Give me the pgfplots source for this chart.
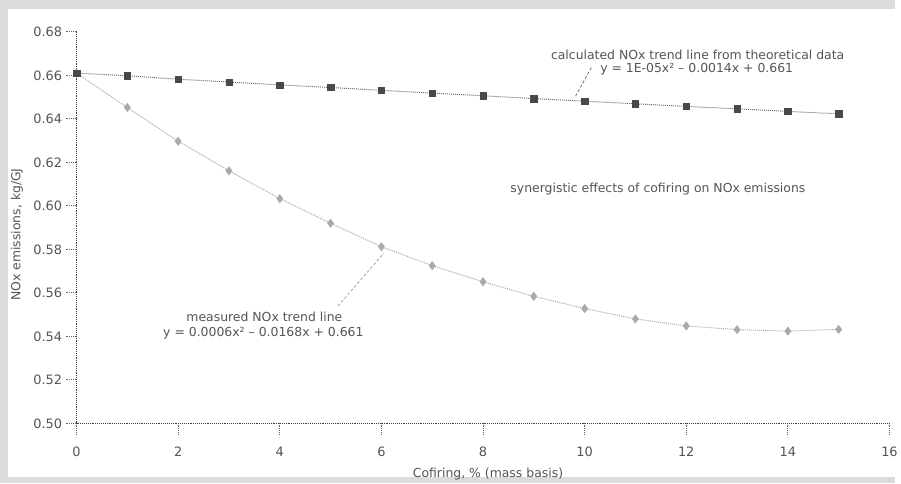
\documentclass[border=0pt]{standalone}
\usepackage{fontspec}
\setmainfont{DejaVu Sans}
\usepackage{pgfplots}
\pgfplotsset{compat=1.18}

\definecolor{inkgray}{RGB}{85,85,85}
\definecolor{axisgray}{RGB}{60,60,60}
\definecolor{calcgray}{RGB}{72,72,72}
\definecolor{measgray}{RGB}{170,170,170}
\definecolor{framegray}{RGB}{220,220,220}

% calculated NOx (theoretical) and measured NOx, kg/GJ, vs cofiring %
\pgfplotstableread{
x   y
0   0.6610
1   0.6598
2   0.6582
3   0.6569
4   0.6556
5   0.6544
6   0.6531
7   0.6518
8   0.6506
9   0.6493
10  0.6481
11  0.6469
12  0.6457
13  0.6446
14  0.6434
15  0.6423
}\calcdata

\pgfplotstableread{
x   y
0   0.6610
1   0.6452
2   0.6297
3   0.6161
4   0.6033
5   0.5920
6   0.5812
7   0.5725
8   0.5651
9   0.5584
10  0.5528
11  0.5480
12  0.5448
13  0.5431
14  0.5424
15  0.5432
}\measdata

\begin{document}
\begin{tikzpicture}
\fill[framegray] (0,0) rectangle (901bp,486bp);
\fill[white] (8bp,6bp) rectangle (901bp,477bp);

\begin{axis}[
  at={(77bp,60bp)}, anchor=south west,
  scale only axis, width=818bp, height=394bp,
  xmin=0, xmax=16, ymin=0.50, ymax=0.68,
  axis x line=bottom, axis y line=left,
  axis line style={-, axisgray, line width=0.9bp, densely dotted},
  xtick={0,2,4,6,8,10,12,14,16},
  ytick={0.50,0.52,0.54,0.56,0.58,0.60,0.62,0.64,0.66,0.68},
  tick align=outside, major tick length=11bp,
  tick style={axisgray!80, line width=0.8bp, densely dotted},
  ticklabel style={font=\fontsize{13bp}{15bp}\selectfont, text=inkgray},
  xticklabel style={yshift=-9bp},
  /pgf/number format/assume math mode=true,
  yticklabel style={/pgf/number format/.cd, fixed, fixed zerofill, precision=2},
  clip=false,
]
\addplot[calcgray!80!white, densely dotted, line width=1bp] table[x=x,y=y]{\calcdata};
\addplot[measgray, densely dotted, line width=1bp, mark=diamond*, mark size=3.8bp,
  mark options={solid, fill=measgray, draw=measgray}] table[x=x,y=y]{\measdata};
\addplot[draw=none, mark=square*, mark size=3.2bp,
  mark options={solid, fill=calcgray, draw=calcgray}] table[x=x,y=y]{\calcdata};
\end{axis}

% pointers from the equations to the curves
\draw[axisgray!80, densely dashed, line width=0.7bp] (595bp,418bp) -- (579bp,389bp);
\draw[measgray!90!black, densely dashed, line width=0.7bp] (340bp,178bp) -- (386bp,231bp);

\begin{scope}[every node/.style={text=inkgray, font=\fontsize{12.5bp}{15bp}\selectfont}]
\node at (702bp,431bp) {calculated NOx trend line from theoretical data};
\node at (701bp,416bp) {y = 1E-05x² – 0.0014x + 0.661};
\node at (662bp,296bp) {synergistic effects of cofiring on NOx emissions};
\node at (266bp,167bp) {measured NOx trend line};
\node at (265bp,151bp) {y = 0.0006x² – 0.0168x + 0.661};
\node at (491bp,9bp) {Cofiring, \% (mass basis)};
\node[rotate=90] at (17bp,250bp) {NOx emissions, kg/GJ};
\end{scope}
\end{tikzpicture}
\end{document}
